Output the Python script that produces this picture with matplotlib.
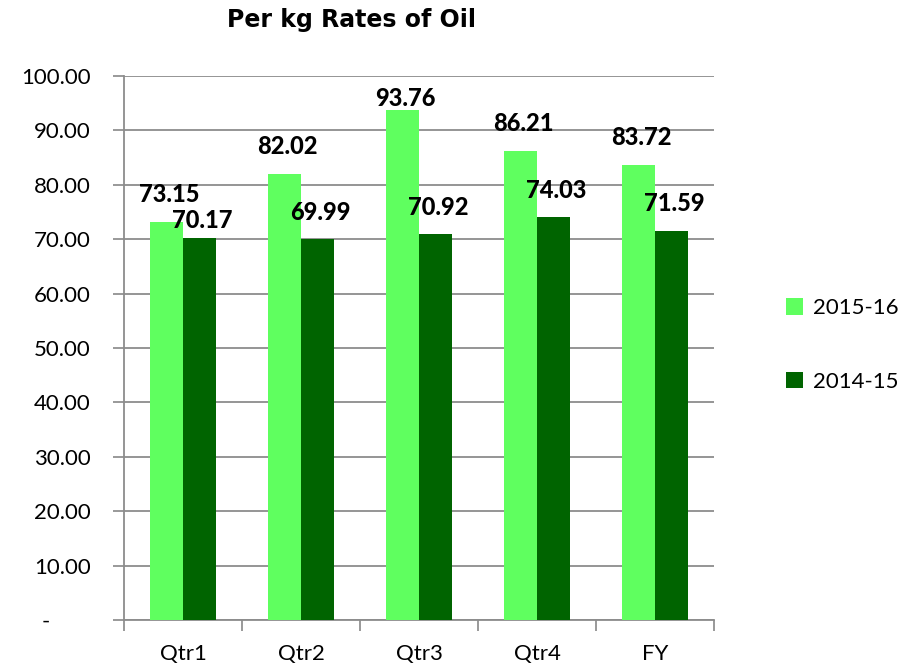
import matplotlib
matplotlib.use('Agg')
import matplotlib.pyplot as plt
import numpy as np
from matplotlib.ticker import FuncFormatter

categories = ['Qtr1', 'Qtr2', 'Qtr3', 'Qtr4', 'FY']
rates_2015_16 = [73.15, 82.02, 93.76, 86.21, 83.72]
rates_2014_15 = [70.17, 69.99, 70.92, 74.03, 71.59]
series_names = ['2015-16', '2014-15']

plt.rcParams['font.family'] = ['Lato', 'DejaVu Sans']

fig = plt.figure(figsize=(9.12, 6.67), dpi=100)
ax = fig.add_axes([0.136, 0.0705, 0.647, 0.8155])

x = np.arange(len(categories))
w = 0.28
light = '#5FFF5F'
dark = '#006400'

b1 = ax.bar(x - w / 2, rates_2015_16, w, color=light, label=series_names[0], zorder=3)
b2 = ax.bar(x + w / 2, rates_2014_15, w, color=dark, label=series_names[1], zorder=3)

# labels sit ~5 units above the bar top; a couple were nudged in the original
label_gap = {('a', 2): 2.2, ('b', 0): 3.3}
for i, v in enumerate(rates_2015_16):
    ax.text(x[i] - w / 2 + 0.025, v + label_gap.get(('a', i), 5.0), f'{v:.2f}',
            ha='center', va='center', fontsize=17, fontweight=900, zorder=4)
for i, v in enumerate(rates_2014_15):
    ax.text(x[i] + w / 2 + 0.025, v + label_gap.get(('b', i), 5.0), f'{v:.2f}',
            ha='center', va='center', fontsize=17, fontweight=900, zorder=4)


def yfmt(v, p):
    # accounting style: zero shows as a dash set in from the right
    return '-' + ' ' * 7 if v == 0 else f'{v:.2f}'


ax.set_ylim(0, 100)
ax.set_xlim(-0.5, len(categories) - 0.5)
ax.set_yticks(np.arange(0, 101, 10))
ax.yaxis.set_major_formatter(FuncFormatter(yfmt))
ax.set_xticks(np.arange(-0.5, len(categories), 1.0))
ax.set_xticklabels([])
ax.set_xticks(x, minor=True)
ax.set_xticklabels(categories, minor=True)
ax.tick_params(axis='x', which='minor', length=0, pad=17, labelsize=16)
ax.tick_params(axis='x', which='major', length=8, color='#888888', width=1.2)
ax.tick_params(axis='y', length=8, color='#888888', width=1.2, labelsize=16, pad=16)

ax.grid(axis='y', color='#8c8c8c', linewidth=1.3, zorder=0)
for s in ['top', 'right']:
    ax.spines[s].set_visible(False)
for s in ['left', 'bottom']:
    ax.spines[s].set_color('#8c8c8c')
    ax.spines[s].set_linewidth(1.3)

fig.text(0.385, 0.97, 'Per kg Rates of Oil', ha='center', va='center',
         fontsize=17, fontweight='bold', family=['DejaVu Sans'])

fig.legend(handles=[b1, b2], loc='center left', bbox_to_anchor=(0.84, 0.483),
           frameon=False, fontsize=16, handlelength=0.75, handleheight=0.75,
           handletextpad=0.45, labelspacing=2.4)

fig.savefig('out.png', dpi=100)
